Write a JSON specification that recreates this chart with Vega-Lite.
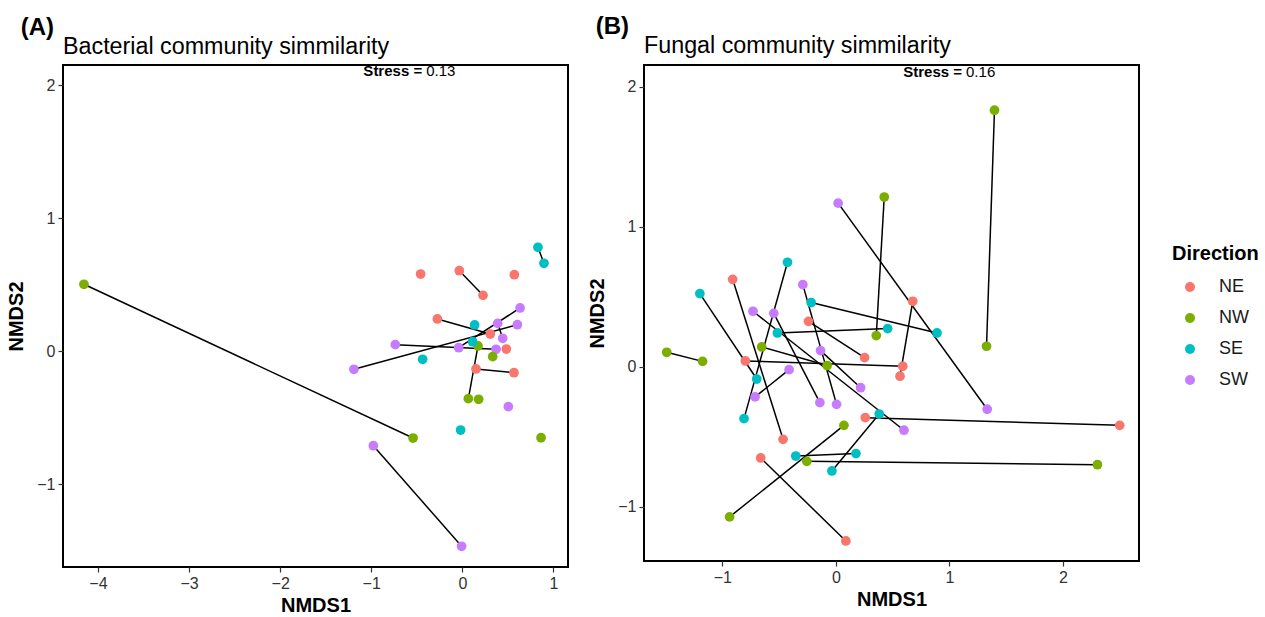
{
  "$schema": "https://vega.github.io/schema/vega-lite/v6.json",
  "padding": {"left": 5, "top": 14, "right": 5, "bottom": 5},
  "background": "white",
  "config": {
    "font": "Liberation Sans",
    "view": {"stroke": "black", "strokeWidth": 2},
    "axis": {
      "domain": false, "grid": false,
      "tickColor": "#333333", "tickSize": 5, "tickWidth": 1.2,
      "labelFont": "Liberation Sans", "labelFontSize": 16, "labelColor": "#333333", "labelPadding": 3,
      "titleFont": "Liberation Sans", "titleFontSize": 20, "titleFontWeight": "bold", "titleColor": "black"
    },
    "axisX": {"titlePadding": 4},
    "axisY": {"titlePadding": 10},
    "title": {"font": "Liberation Sans", "color": "black"}
  },
  "datasets": {
    "bact": [
      {"x": -4.154, "y": 0.504, "Direction": "NW", "pair": 1},
      {"x": -0.541, "y": -0.652, "Direction": "NW", "pair": 1},
      {"x": -0.977, "y": -0.71, "Direction": "SW", "pair": 2},
      {"x": -0.008, "y": -1.466, "Direction": "SW", "pair": 2},
      {"x": 0.83, "y": 0.782, "Direction": "SE", "pair": 3},
      {"x": 0.896, "y": 0.662, "Direction": "SE", "pair": 3},
      {"x": -0.033, "y": 0.606, "Direction": "NE", "pair": 4},
      {"x": 0.227, "y": 0.421, "Direction": "NE", "pair": 4},
      {"x": -0.274, "y": 0.243, "Direction": "NE", "pair": 5},
      {"x": 0.307, "y": 0.13, "Direction": "NE", "pair": 5},
      {"x": -1.19, "y": -0.135, "Direction": "SW", "pair": 6},
      {"x": 0.604, "y": 0.2, "Direction": "SW", "pair": 6},
      {"x": -0.736, "y": 0.05, "Direction": "SW", "pair": 7},
      {"x": 0.37, "y": 0.015, "Direction": "SW", "pair": 7},
      {"x": -0.04, "y": 0.027, "Direction": "SW", "pair": 8},
      {"x": 0.634, "y": 0.326, "Direction": "SW", "pair": 8},
      {"x": 0.388, "y": 0.21, "Direction": "SW", "pair": 9},
      {"x": 0.443, "y": 0.098, "Direction": "SW", "pair": 9},
      {"x": 0.172, "y": 0.04, "Direction": "NW", "pair": 10},
      {"x": 0.066, "y": -0.356, "Direction": "NW", "pair": 10},
      {"x": 0.15, "y": -0.133, "Direction": "NE", "pair": 11},
      {"x": 0.567, "y": -0.161, "Direction": "NE", "pair": 11},
      {"x": -0.458, "y": 0.581, "Direction": "NE", "pair": 0},
      {"x": 0.571, "y": 0.576, "Direction": "NE", "pair": 0},
      {"x": 0.483, "y": 0.017, "Direction": "NE", "pair": 0},
      {"x": 0.135, "y": 0.198, "Direction": "SE", "pair": 0},
      {"x": 0.113, "y": 0.072, "Direction": "SE", "pair": 0},
      {"x": 0.333, "y": -0.04, "Direction": "NW", "pair": 0},
      {"x": -0.436, "y": -0.06, "Direction": "SE", "pair": 0},
      {"x": 0.179, "y": -0.361, "Direction": "NW", "pair": 0},
      {"x": 0.505, "y": -0.416, "Direction": "SW", "pair": 0},
      {"x": -0.019, "y": -0.592, "Direction": "SE", "pair": 0},
      {"x": 0.864, "y": -0.65, "Direction": "NW", "pair": 0}
    ],
    "fung": [
      {"x": -0.909, "y": 0.626, "Direction": "NE", "pair": 1},
      {"x": -0.465, "y": -0.517, "Direction": "NE", "pair": 1},
      {"x": -0.241, "y": 0.326, "Direction": "NE", "pair": 2},
      {"x": 0.253, "y": 0.067, "Direction": "NE", "pair": 2},
      {"x": 0.259, "y": -0.362, "Direction": "NE", "pair": 3},
      {"x": 2.5, "y": -0.417, "Direction": "NE", "pair": 3},
      {"x": -0.662, "y": -0.65, "Direction": "NE", "pair": 4},
      {"x": 0.088, "y": -1.243, "Direction": "NE", "pair": 4},
      {"x": 0.677, "y": 0.469, "Direction": "NE", "pair": 5},
      {"x": 0.565, "y": -0.066, "Direction": "NE", "pair": 5},
      {"x": -0.797, "y": 0.043, "Direction": "NE", "pair": 6},
      {"x": 0.589, "y": 0.005, "Direction": "NE", "pair": 6},
      {"x": 1.397, "y": 1.834, "Direction": "NW", "pair": 7},
      {"x": 1.327, "y": 0.148, "Direction": "NW", "pair": 7},
      {"x": 0.426, "y": 1.214, "Direction": "NW", "pair": 8},
      {"x": 0.356, "y": 0.224, "Direction": "NW", "pair": 8},
      {"x": -1.49, "y": 0.105, "Direction": "NW", "pair": 9},
      {"x": -1.174, "y": 0.04, "Direction": "NW", "pair": 9},
      {"x": -0.653, "y": 0.143, "Direction": "NW", "pair": 10},
      {"x": -0.077, "y": 0.01, "Direction": "NW", "pair": 10},
      {"x": -0.936, "y": -1.071, "Direction": "NW", "pair": 11},
      {"x": 0.071, "y": -0.417, "Direction": "NW", "pair": 11},
      {"x": -0.256, "y": -0.674, "Direction": "NW", "pair": 12},
      {"x": 2.304, "y": -0.698, "Direction": "NW", "pair": 12},
      {"x": -0.426, "y": 0.748, "Direction": "SE", "pair": 13},
      {"x": -0.809, "y": -0.369, "Direction": "SE", "pair": 13},
      {"x": -1.198, "y": 0.524, "Direction": "SE", "pair": 14},
      {"x": -0.697, "y": -0.086, "Direction": "SE", "pair": 14},
      {"x": -0.218, "y": 0.46, "Direction": "SE", "pair": 15},
      {"x": 0.891, "y": 0.243, "Direction": "SE", "pair": 15},
      {"x": -0.515, "y": 0.243, "Direction": "SE", "pair": 16},
      {"x": 0.456, "y": 0.274, "Direction": "SE", "pair": 16},
      {"x": 0.382, "y": -0.336, "Direction": "SE", "pair": 17},
      {"x": -0.035, "y": -0.743, "Direction": "SE", "pair": 17},
      {"x": -0.353, "y": -0.636, "Direction": "SE", "pair": 18},
      {"x": 0.177, "y": -0.619, "Direction": "SE", "pair": 18},
      {"x": 0.02, "y": 1.17, "Direction": "SW", "pair": 19},
      {"x": 1.333, "y": -0.302, "Direction": "SW", "pair": 19},
      {"x": -0.291, "y": 0.588, "Direction": "SW", "pair": 20},
      {"x": 0.006, "y": -0.267, "Direction": "SW", "pair": 20},
      {"x": -0.73, "y": 0.398, "Direction": "SW", "pair": 21},
      {"x": 0.6, "y": -0.452, "Direction": "SW", "pair": 21},
      {"x": -0.547, "y": 0.383, "Direction": "SW", "pair": 22},
      {"x": -0.141, "y": -0.255, "Direction": "SW", "pair": 22},
      {"x": -0.135, "y": 0.117, "Direction": "SW", "pair": 23},
      {"x": 0.218, "y": -0.148, "Direction": "SW", "pair": 23},
      {"x": -0.412, "y": -0.019, "Direction": "SW", "pair": 24},
      {"x": -0.712, "y": -0.214, "Direction": "SW", "pair": 24}
    ]
  },
  "spacing": 17,
  "resolve": {"scale": {"color": "shared"}},
  "hconcat": [
    {
      "title": {"text": "(A)", "anchor": "start", "frame": "bounds", "fontSize": 24, "fontWeight": "bold", "dx": 15, "offset": -6},
      "vconcat": [
        {
          "title": {"text": "Bacterial community simmilarity", "anchor": "start", "frame": "group", "fontSize": 23.3, "fontWeight": "normal", "offset": 5},
          "width": 505,
          "height": 502,
          "encoding": {
            "x": {"field": "x", "type": "quantitative", "title": "NMDS1", "scale": {"domain": [-4.384, 1.16], "nice": false, "zero": false}, "axis": {"values": [-4, -3, -2, -1, 0, 1]}},
            "y": {"field": "y", "type": "quantitative", "title": "NMDS2", "scale": {"domain": [-1.622, 2.153], "nice": false, "zero": false}, "axis": {"values": [-1, 0, 1, 2]}}
          },
          "layer": [
            {
              "data": {"name": "bact"},
              "transform": [{"filter": "datum.pair > 0"}],
              "mark": {"type": "line", "color": "black", "strokeWidth": 1.5},
              "encoding": {"detail": {"field": "pair", "type": "nominal"}}
            },
            {
              "data": {"name": "bact"},
              "mark": {"type": "circle", "size": 95, "opacity": 1},
              "encoding": {
                "color": {
                  "field": "Direction", "type": "nominal",
                  "scale": {"domain": ["NE", "NW", "SE", "SW"], "range": ["#F8766D", "#7CAE00", "#00BFC4", "#C77CFF"]},
                  "legend": {
                    "title": "Direction", "orient": "none", "legendX": 1109, "legendY": 179,
                    "titleFontSize": 20, "titleFontWeight": "bold", "titleColor": "black", "titlePadding": 14,
                    "labelFontSize": 18, "labelColor": "#1a1a1a", "labelOffset": 20,
                    "symbolType": "circle", "symbolSize": 100, "symbolOffset": 9, "rowPadding": 13, "symbolStrokeWidth": 0
                  }
                }
              }
            },
            {
              "data": {"values": [{"x": -0.43, "y": 2.107, "label": "Stress =", "value": "0.13"}]},
              "mark": {"type": "text", "align": "right", "baseline": "middle", "fontWeight": "bold", "fontSize": 15, "dx": -1, "color": "black"},
              "encoding": {"text": {"field": "label"}}
            },
            {
              "data": {"values": [{"x": -0.43, "y": 2.107, "label": "Stress =", "value": "0.13"}]},
              "mark": {"type": "text", "align": "left", "baseline": "middle", "fontSize": 15, "dx": 3, "color": "black"},
              "encoding": {"text": {"field": "value"}}
            }
          ]
        }
      ]
    },
    {
      "title": {"text": "(B)", "anchor": "start", "frame": "bounds", "fontSize": 24, "fontWeight": "bold", "dx": 9, "offset": -6},
      "vconcat": [
        {
          "title": {"text": "Fungal community simmilarity", "anchor": "start", "frame": "group", "fontSize": 23.3, "fontWeight": "normal", "offset": 7},
          "width": 495,
          "height": 496,
          "encoding": {
            "x": {"field": "x", "type": "quantitative", "title": "NMDS1", "scale": {"domain": [-1.69, 2.67], "nice": false, "zero": false}, "axis": {"values": [-1, 0, 1, 2]}},
            "y": {"field": "y", "type": "quantitative", "title": "NMDS2", "scale": {"domain": [-1.386, 2.157], "nice": false, "zero": false}, "axis": {"values": [-1, 0, 1, 2]}}
          },
          "layer": [
            {
              "data": {"name": "fung"},
              "transform": [{"filter": "datum.pair > 0"}],
              "mark": {"type": "line", "color": "black", "strokeWidth": 1.5},
              "encoding": {"detail": {"field": "pair", "type": "nominal"}}
            },
            {
              "data": {"name": "fung"},
              "mark": {"type": "circle", "size": 95, "opacity": 1},
              "encoding": {
                "color": {"field": "Direction", "type": "nominal"}
              }
            },
            {
              "data": {"values": [{"x": 1.12, "y": 2.107, "label": "Stress =", "value": "0.16"}]},
              "mark": {"type": "text", "align": "right", "baseline": "middle", "fontWeight": "bold", "fontSize": 15, "dx": -1, "color": "black"},
              "encoding": {"text": {"field": "label"}}
            },
            {
              "data": {"values": [{"x": 1.12, "y": 2.107, "label": "Stress =", "value": "0.16"}]},
              "mark": {"type": "text", "align": "left", "baseline": "middle", "fontSize": 15, "dx": 3, "color": "black"},
              "encoding": {"text": {"field": "value"}}
            }
          ]
        }
      ]
    }
  ]
}
